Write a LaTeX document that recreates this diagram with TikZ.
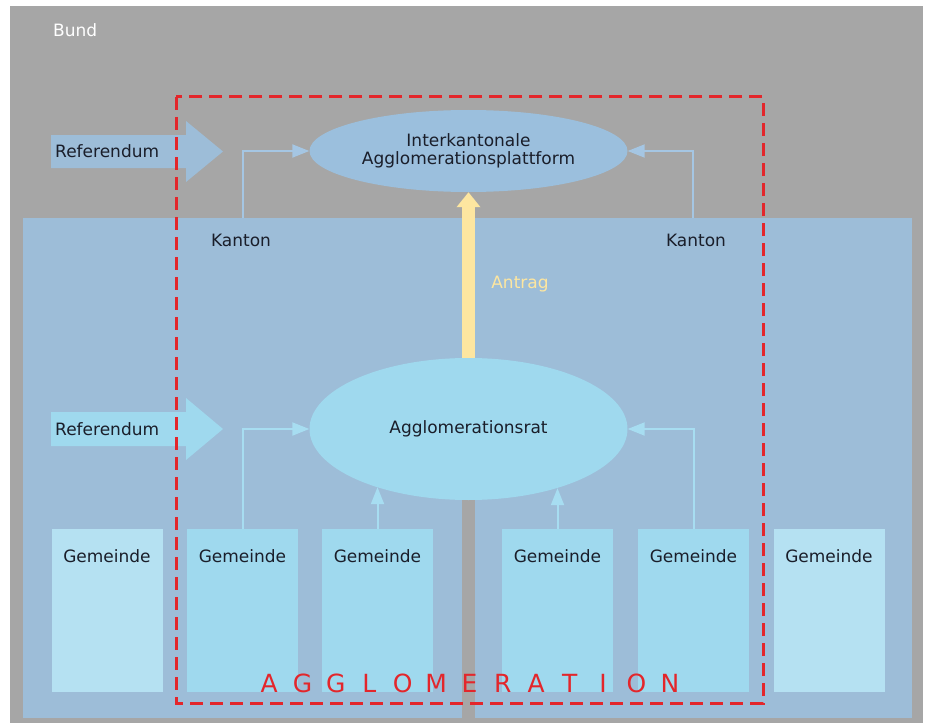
\documentclass[tikz,border=0pt]{standalone}
\usepackage{fontspec}
\setmainfont{DejaVu Sans}
\usetikzlibrary{shapes.geometric,arrows.meta}
\definecolor{bggray}{HTML}{A6A6A6}
\definecolor{kanton}{HTML}{9DBDD8}
\definecolor{elltop}{HTML}{9BBFDD}
\definecolor{cyanA}{HTML}{9FD9EE}
\definecolor{cyanB}{HTML}{B5E1F2}
\definecolor{lineA}{HTML}{A5C6E3}
\definecolor{lineB}{HTML}{A7DDF1}
\definecolor{yellowc}{HTML}{FDE6A0}
\definecolor{redc}{HTML}{E3262B}
\definecolor{txtdark}{HTML}{1A1E2A}
\newcommand\lb[1]{\makebox[33.4pt]{#1}}
\begin{document}
\begin{tikzpicture}[x=1pt,y=-1pt,
  txt/.style={text=txtdark, font=\fontsize{17}{18.5}\selectfont, inner sep=0pt},
  connA/.style={draw=lineA, line width=2pt, -{Triangle[length=17pt,width=13pt]}},
  connB/.style={draw=lineB, line width=2pt, -{Triangle[length=17pt,width=13pt]}},
  gem/.style={rectangle, txt, minimum width=111pt, text height=33pt, text depth=130pt, inner sep=0pt, anchor=north},
  ell/.style={ellipse, txt, inner sep=0pt, align=center}]
\useasboundingbox (0,0) rectangle (930,725);
\fill[white] (0,0) rectangle (930,725);
\fill[bggray] (10,6) rectangle (923,723);
% canton area
\fill[kanton] (23,218) rectangle (912,718);
\fill[bggray] (462,498) rectangle (475,718);
% Bund
\node[txt, text=white, anchor=west] (bund) at (53,30) {Bund};
% referendum arrows
\fill[kanton] (51,135) -- (186,135) -- (186,121) -- (223,151.5) -- (186,182) -- (186,168) -- (51,168) -- cycle;
\node[txt, anchor=west] (ref1) at (55,151.5) {Referendum};
\fill[cyanA] (51,412) -- (186,412) -- (186,398) -- (223,429) -- (186,460) -- (186,446) -- (51,446) -- cycle;
\node[txt, anchor=west] (ref2) at (55,429) {Referendum};
% ellipses
\node[ell, fill=elltop, minimum width=318pt, minimum height=82pt] (iap) at (468.5,151)
  {Interkantonale\\Agglomerationsplattform};
\node[ell, fill=cyanA, minimum width=318pt, minimum height=142pt] (rat) at (468.5,429)
  {Agglomerationsrat};
% Kanton labels
\node[txt] (kl) at (241,240) {Kanton};
\node[txt] (kr) at (696,240) {Kanton};
\coordinate (kls) at (243,218);
\coordinate (krs) at (693,218);
\draw[connA] (kls) |- (iap.west);
\draw[connA] (krs) |- (iap.east);
% Antrag arrow
\draw[yellowc, line width=13pt, -{Triangle[length=15pt,width=23pt]}] (rat.north) -- (iap.south);
\node[txt, text=yellowc] (antrag) at (520,284) {Antrag};
% Gemeinden
\node[gem, fill=cyanB] (g1) at (107,529) {Gemeinde};
\node[gem, fill=cyanA] (g2) at (242.5,529) {Gemeinde};
\node[gem, fill=cyanA] (g3) at (377.5,529) {Gemeinde};
\node[gem, fill=cyanA] (g4) at (557.5,529) {Gemeinde};
\node[gem, fill=cyanA] (g5) at (693.5,529) {Gemeinde};
\node[gem, fill=cyanB] (g6) at (829,529) {Gemeinde};
\draw[connB] (g2.north) |- (rat.west);
\draw[connB, shorten >=-13pt] (g3.north) -- (g3.north |- rat.south);
\draw[connB, shorten >=-12pt] (g4.north) -- (g4.north |- rat.south);
\draw[connB] (g5.north) |- (rat.east);
% Agglomeration frame
\draw[redc, line width=3pt, dash pattern=on 13pt off 7pt] (176,97) rectangle (763,703);
\node[text=redc, font=\fontsize{25}{28}\selectfont, inner sep=0pt, anchor=base] (aggl) at (469.5,692)
  {\lb{A}\lb{G}\lb{G}\lb{L}\lb{O}\lb{M}\lb{E}\lb{R}\lb{A}\lb{T}\lb{I}\lb{O}\lb{N}};
\end{tikzpicture}
\end{document}
